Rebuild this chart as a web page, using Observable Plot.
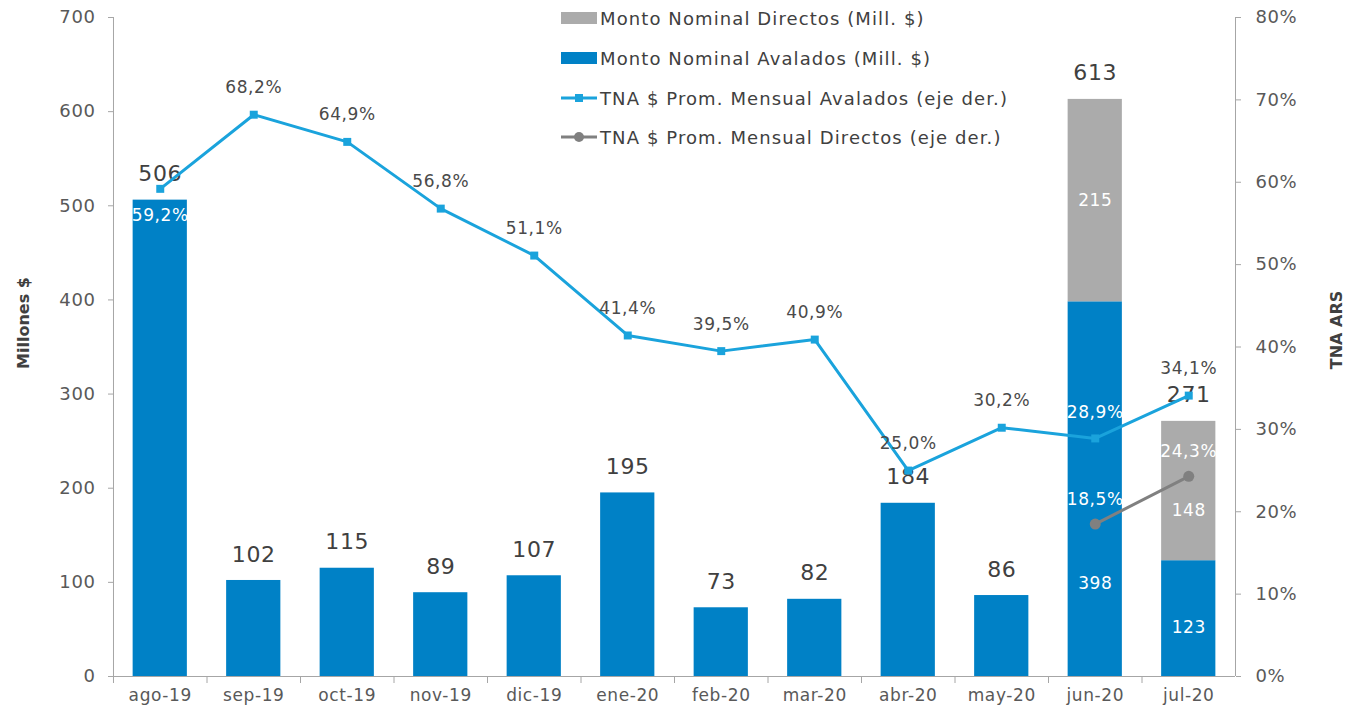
<!DOCTYPE html>
<html>
<head>
<meta charset="utf-8">
<script src="https://cdn.jsdelivr.net/npm/d3@7"></script>
<script src="https://cdn.jsdelivr.net/npm/@observablehq/plot@0.6"></script>
<style>
  body { margin: 0; background: #fff; font-family: "DejaVu Sans", sans-serif; }
  #wrap { position: relative; width: 1360px; height: 714px; }
  .lg { position: absolute; left: 561px; color: #404040; font-size: 18px; letter-spacing: 1.1px; display: flex; align-items: center; height: 20px; white-space: nowrap; }
  .lg svg { margin-right: 3px; }
  .ytitle { position: absolute; font-weight: bold; color: #404040; font-size: 16px; white-space: nowrap; transform: translate(-50%, -50%) rotate(-90deg); }
  svg text { letter-spacing: 0.6px; }
</style>
</head>
<body>
<div id="wrap"></div>
<script>
const months = ["ago-19","sep-19","oct-19","nov-19","dic-19","ene-20","feb-20","mar-20","abr-20","may-20","jun-20","jul-20"];
const avalados = [506,102,115,89,107,195,73,82,184,86,398,123];
const directos = [0,0,0,0,0,0,0,0,0,0,215,148];
const tnaAvalados = [59.2,68.2,64.9,56.8,51.1,41.4,39.5,40.9,25.0,30.2,28.9,34.1];
const tnaDirectos = [null,null,null,null,null,null,null,null,null,null,18.5,24.3];
const leftTicks = [0,100,200,300,400,500,600,700];
const rightTicks = [0,10,20,30,40,50,60,70,80];
const legendLabels = ["Monto Nominal Directos (Mill. $)","Monto Nominal Avalados (Mill. $)","TNA $ Prom. Mensual Avalados (eje der.)","TNA $ Prom. Mensual Directos (eje der.)"];

const BLUE = "#0081C6", GREY = "#ABABAB", LBLUE = "#1AA3DC", DGREY = "#808080", TXT = "#404040", AX = "#A6A6A6";
const k = 700 / 80; // right axis (%) to left axis units

const rows = months.map((m, i) => ({
  month: m, av: avalados[i], di: directos[i], total: avalados[i] + directos[i],
  tna: tnaAvalados[i], tnaD: tnaDirectos[i]
}));
const rowsD = rows.filter(d => d.tnaD != null);
const half = 93.5 / 2;

const fmt = v => v.toFixed(1).replace(".", ",") + "%";
const whiteAv = new Set(["ago-19", "jun-20"]);

const chart = Plot.plot({
  width: 1360, height: 714,
  marginLeft: 113, marginRight: 125, marginTop: 17, marginBottom: 38,
  style: { fontFamily: "DejaVu Sans, sans-serif", color: "#595959", background: "#fff" },
  x: { type: "band", domain: months, paddingInner: 0.42, paddingOuter: 0.21, label: null, round: false },
  y: { domain: [0, 700], label: null },
  marks: [
    Plot.barY(rows, { x: "month", y1: 0, y2: "av", fill: BLUE }),
    Plot.barY(rows.filter(d => d.di > 0), { x: "month", y1: "av", y2: "total", fill: GREY }),
    Plot.ruleY([0], { stroke: AX }),
    Plot.ruleX([months[0]], { dx: -half, stroke: AX }),
    Plot.ruleX([months[months.length - 1]], { dx: half, stroke: AX }),
    Plot.axisY(leftTicks, { anchor: "left", tickSize: 5, tickPadding: 13, fontSize: 18, stroke: AX, label: null }),
    Plot.axisY(rightTicks.map(v => v * k), { anchor: "right", tickSize: 5, tickPadding: 15, fontSize: 18, stroke: AX, label: null, tickFormat: d => Math.round(d / k) + "%" }),
    Plot.axisX({ tickSize: 0, tickPadding: 12, fontSize: 17, label: null }),
    Plot.axisX({ tickSize: 7, dx: -half, stroke: AX, tickFormat: () => "", label: null }),
    // bar totals
    Plot.text(rows, { x: "month", y: "total", text: d => String(d.total), dy: -26, fontSize: 22, fill: TXT }),
    // segment labels (jun, jul)
    Plot.text(rows.filter(d => d.month === "jun-20"), { x: "month", y: d => d.av + d.di / 2, text: d => String(d.di), fontSize: 17, fill: "#fff" }),
    Plot.text(rows.filter(d => d.month === "jul-20"), { x: "month", y: d => d.av + d.di / 2, text: d => String(d.di), dy: 20, fontSize: 17, fill: "#fff" }),
    Plot.text(rows.filter(d => d.month === "jun-20"), { x: "month", y: d => d.av / 2, text: d => String(d.av), dy: 94, fontSize: 17, fill: "#fff" }),
    Plot.text(rows.filter(d => d.month === "jul-20"), { x: "month", y: d => d.av / 2, text: d => String(d.av), dy: 9, fontSize: 17, fill: "#fff" }),
    // lines
    Plot.line(rows, { x: "month", y: d => d.tna * k, stroke: LBLUE, strokeWidth: 3 }),
    Plot.dot(rows, { x: "month", y: d => d.tna * k, symbol: "square", r: 4.5, fill: LBLUE }),
    Plot.line(rowsD, { x: "month", y: d => d.tnaD * k, stroke: DGREY, strokeWidth: 3 }),
    Plot.dot(rowsD, { x: "month", y: d => d.tnaD * k, r: 5.5, fill: DGREY }),
    // line labels
    Plot.text(rows.filter(d => !whiteAv.has(d.month)), { x: "month", y: d => d.tna * k, text: d => fmt(d.tna), dy: -27, fontSize: 17, fill: "#4a4a4a" }),
    Plot.text(rows.filter(d => d.month === "ago-19"), { x: "month", y: d => d.tna * k, text: d => fmt(d.tna), dy: 27, fontSize: 17, fill: "#fff" }),
    Plot.text(rows.filter(d => d.month === "jun-20"), { x: "month", y: d => d.tna * k, text: d => fmt(d.tna), dy: -26, fontSize: 17, fill: "#fff" }),
    Plot.text(rowsD, { x: "month", y: d => d.tnaD * k, text: d => fmt(d.tnaD), dy: -25, fontSize: 17, fill: "#fff" })
  ]
});

const wrap = document.getElementById("wrap");
wrap.appendChild(chart);

// legend
const legendTops = [8, 48, 88, 127];
const sw = [
  `<svg width="36" height="12"><rect x="0" y="0" width="36" height="12" fill="${GREY}"/></svg>`,
  `<svg width="36" height="12"><rect x="0" y="0" width="36" height="12" fill="${BLUE}"/></svg>`,
  `<svg width="36" height="12"><line x1="0" y1="6" x2="36" y2="6" stroke="${LBLUE}" stroke-width="3"/><rect x="14" y="2" width="8" height="8" fill="${LBLUE}"/></svg>`,
  `<svg width="36" height="12"><line x1="0" y1="6" x2="36" y2="6" stroke="${DGREY}" stroke-width="3"/><circle cx="18" cy="6" r="5" fill="${DGREY}"/></svg>`
];
legendLabels.forEach((t, i) => {
  const d = document.createElement("div");
  d.className = "lg";
  d.style.top = legendTops[i] + "px";
  d.innerHTML = sw[i] + "<span></span>";
  d.querySelector("span").textContent = t;
  wrap.appendChild(d);
});

// axis titles
const t1 = document.createElement("div");
t1.className = "ytitle"; t1.textContent = "Millones $";
t1.style.left = "23px"; t1.style.top = "323px";
wrap.appendChild(t1);
const t2 = document.createElement("div");
t2.className = "ytitle"; t2.textContent = "TNA ARS";
t2.style.left = "1336px"; t2.style.top = "330px";
wrap.appendChild(t2);
</script>
</body>
</html>
